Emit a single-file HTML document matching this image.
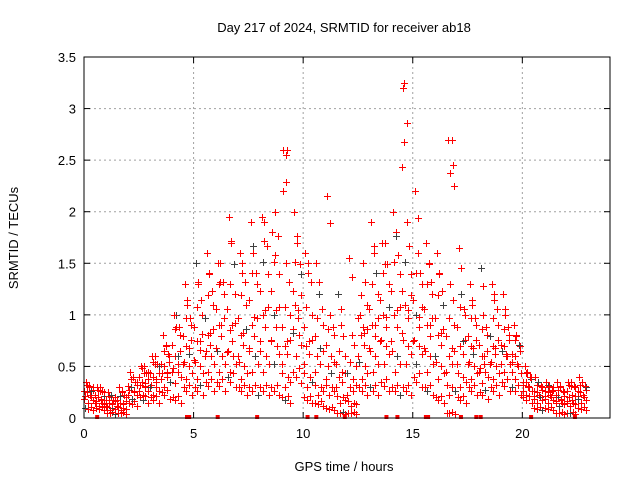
<!DOCTYPE html>
<html><head><meta charset="utf-8"><style>
body{margin:0;background:#fff}
svg text{font-family:"Liberation Sans",sans-serif;font-size:13px;fill:#000}
</style></head><body>
<svg id="chart" width="640" height="480" xmlns="http://www.w3.org/2000/svg">
<text x="344" y="32" text-anchor="middle">Day 217 of 2024, SRMTID for receiver ab18</text>
<text x="344" y="471" text-anchor="middle">GPS time / hours</text>
<text transform="translate(18,238) rotate(-90)" text-anchor="middle">SRMTID / TECUs</text>
<g id="grid"></g>
<g id="ticks"></g>
<g id="pts"></g>
<rect x="84" y="57" width="526" height="361" fill="none" stroke="#000" stroke-width="1"/>
</svg>
<script>
const binStart = 0, binStep = 0.5;
const seriesLow  = [0.1,0.1,0.05,0.05,0.15,0.2,0.2,0.25,0.2,0.3,0.3,0.35,0.35,0.4,0.3,0.3,0.3,0.3,0.2,0.45,0.2,0.15,0.1,0.05,0.05,0.3,0.3,0.35,0.3,0.3,0.4,0.3,0.2,0.05,0.2,0.3,0.25,0.3,0.35,0.3,0.2,0.1,0.1,0.05,0.05,0.1];
const seriesMid1 = [0.2,0.15,0.1,0.1,0.25,0.3,0.3,0.4,0.45,0.5,0.5,0.6,0.6,0.6,0.5,0.6,0.6,0.7,0.4,0.8,0.4,0.3,0.3,0.2,0.15,0.5,0.6,0.7,0.6,0.7,0.7,0.6,0.5,0.3,0.4,0.5,0.45,0.5,0.6,0.5,0.3,0.2,0.2,0.15,0.15,0.2];
const seriesMid2 = [0.25,0.2,0.15,0.15,0.3,0.35,0.4,0.5,0.6,0.7,0.75,0.8,0.9,0.85,0.8,0.9,1.0,1.0,0.7,1.1,0.7,0.6,0.5,0.4,0.3,0.8,0.9,1.0,1.0,1.1,1.0,0.9,0.8,0.6,0.7,0.7,0.6,0.7,0.7,0.6,0.35,0.25,0.25,0.2,0.2,0.25];
const seriesMid3 = [0.3,0.25,0.2,0.2,0.35,0.45,0.5,0.6,0.8,0.9,1.0,1.1,1.2,1.2,1.1,1.3,1.4,1.4,1.0,1.4,1.0,0.9,0.8,0.6,0.5,1.1,1.2,1.3,1.4,1.4,1.3,1.2,1.1,0.9,1.0,0.9,0.8,0.9,0.8,0.7,0.4,0.3,0.3,0.25,0.3,0.3];
const seriesHigh = [0.3,0.3,0.2,0.25,0.4,0.5,0.6,0.7,1.0,1.1,1.3,1.4,1.5,1.7,1.5,1.6,1.9,2.0,1.5,1.7,1.5,1.2,1.0,0.9,0.8,1.5,1.6,1.7,1.8,1.9,1.6,1.5,1.4,1.3,1.2,1.1,1.0,1.2,1.0,0.8,0.45,0.35,0.3,0.3,0.35,0.35];
const seriesPeak = [0.35,0.3,0.25,0.3,0.45,0.5,0.6,0.8,1.0,1.3,1.5,1.6,1.5,1.95,1.6,1.9,1.95,1.8,2.6,2.0,1.6,1.5,2.15,1.2,1.55,1.0,1.9,1.7,2.0,3.25,2.2,1.7,1.6,2.7,1.65,1.3,1.45,1.3,1.2,0.9,0.5,0.4,0.35,0.35,0.35,0.4];
const spikeTimes  = [9.2,9.25,14.55,14.6,16.85,16.9,16.8,9.1,14.5];
const spikeValues = [2.55,2.6,3.2,2.68,2.45,2.25,2.7,2.2,2.43];
const zeroTimes = [0.6,4.7,4.8,6.1,7.9,10.2,10.6,11.9,13.8,14.3,15.6,15.7,17.2,17.9,18.1,20.4,22.4];
const xTicks = [0,5,10,15,20];
const yTicks = [0,0.5,1,1.5,2,2.5,3,3.5];
const yTickLabels = ["0","0.5","1","1.5","2","2.5","3","3.5"];

const X0=84,X1=610,Y0=418,Y1=57,XMAX=24.0,YMAX=3.5;
const xs=t=>X0+(X1-X0)*t/XMAX, ys=v=>Y0-(Y0-Y1)*v/YMAX;
const NS="http://www.w3.org/2000/svg";
const mk=(tag,attrs,parent)=>{const e=document.createElementNS(NS,tag);for(const k in attrs)e.setAttribute(k,attrs[k]);parent.appendChild(e);return e;};
const grid=document.getElementById('grid'),ticks=document.getElementById('ticks'),pts=document.getElementById('pts');
xTicks.forEach(t=>{
  const x=xs(t);
  if(t>0){const g=mk('line',{x1:x,x2:x,y1:Y1,y2:Y0,stroke:'#a0a0a0','stroke-dasharray':'2,3'},grid);
  
  }
  mk('line',{x1:x,x2:x,y1:Y0,y2:Y0-6,stroke:'#000'},ticks);
  mk('line',{x1:x,x2:x,y1:Y1,y2:Y1+6,stroke:'#000'},ticks);
  const l=mk('text',{x:x,y:Y0+20,'text-anchor':'middle'},ticks);l.textContent=t;
  
  
});
yTicks.forEach((v,i)=>{
  const y=ys(v);
  if(v>0&&v<YMAX){const g=mk('line',{x1:X0,x2:X1,y1:y,y2:y,stroke:'#a0a0a0','stroke-dasharray':'2,3'},grid);
  
  }
  mk('line',{x1:X0,x2:X0+6,y1:y,y2:y,stroke:'#000'},ticks);
  mk('line',{x1:X1,x2:X1-6,y1:y,y2:y,stroke:'#000'},ticks);
  const l=mk('text',{x:X0-8,y:y+5,'text-anchor':'end'},ticks);l.textContent=yTickLabels[i];
  
  
});
function plus(t,v,col){
  const x=Math.round(xs(t))+0.5,y=Math.round(ys(v))+0.5;
  const p=mk('path',{d:`M${x-3.5} ${y}h7M${x} ${y-3.5}v7`,stroke:col,'stroke-width':1,fill:'none'},pts);
  
  
}
const allSeries=[seriesLow,seriesMid1,seriesMid2,seriesMid3,seriesHigh,seriesPeak];
const offs=[0.05,0.3,0.15,0.4,0.22,0.1];
const dupT=[0,0.12,0.25,0.37];
const dupF=[1,0.88,1.08,0.75];
allSeries.forEach((s,k)=>s.forEach((v,i)=>{
  const base=binStart+i*binStep;
  const n=k<=3?4:2;
  for(let j=0;j<n;j++){
    const t=base+((offs[k]+dupT[j])%binStep);
    plus(t,v*dupF[j],((k*3+j+i*5)%13===0)?'#404040':'#ff0000');
  }
}));
spikeTimes.forEach((t,i)=>plus(t,spikeValues[i],'#ff0000'));
zeroTimes.forEach(t=>{
  const r=mk('rect',{x:xs(t)-2,y:Y0-3,width:4,height:4,fill:'#ff0000'},pts);
  
  
});
</script>
</body></html>
